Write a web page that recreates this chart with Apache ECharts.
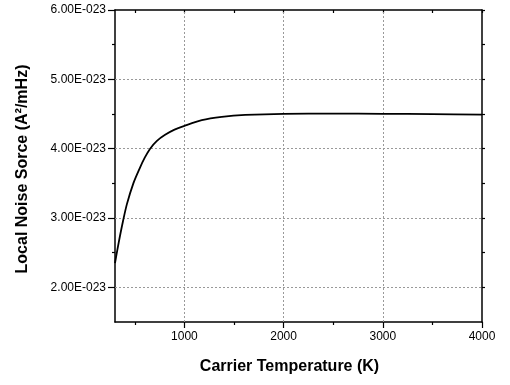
<!DOCTYPE html>
<html>
<head>
<meta charset="utf-8">
<script src="https://cdn.jsdelivr.net/npm/echarts@6/dist/echarts.min.js"></script>
<style>
  html, body { margin: 0; padding: 0; background: #fff; }
  #chart { width: 510px; height: 385px; }
</style>
</head>
<body>
<div id="chart"></div>
<script>
// Carrier temperature (K) and local noise source (in units of 1E-23 A^2/mHz)
const temperature = [300, 325, 350, 380, 420, 485, 550, 600, 654, 720, 805, 900, 1000, 1175, 1377, 1613, 2000, 2500, 3000, 3500, 4000];
const noiseSource = [2.35, 2.55, 2.74, 2.95, 3.2, 3.5, 3.72, 3.87, 4.0, 4.11, 4.2, 4.275, 4.33, 4.41, 4.457, 4.486, 4.503, 4.505, 4.503, 4.498, 4.49];

const xMajorTicks = [1000, 2000, 3000, 4000];
const xMinorTicks = [500, 1500, 2500, 3500];
const yMajorTicks = [2, 3, 4, 5, 6];
const yMinorTicks = [2.5, 3.5, 4.5, 5.5];
const xGridValues = [1000, 2000, 3000];
const yGridValues = [2, 3, 4, 5];

const X_MIN = 300, X_MAX = 4000, Y_MIN = 1.5, Y_MAX = 6;
const FONT = 'Liberation Sans, Arial, sans-serif';

const chart = echarts.init(document.getElementById('chart'), null, { renderer: 'canvas' });

const axisBlack = { show: true, lineStyle: { color: '#000', width: 1.5 } };
const noLine = { show: false };
const tickStyle = { color: '#000', width: 1.2 };

function xAxisBase(extra) {
  return Object.assign({
    type: 'value', min: X_MIN, max: X_MAX,
    splitLine: { show: false },
    axisLabel: { show: false },
    axisLine: noLine
  }, extra);
}
function yAxisBase(extra) {
  return Object.assign({
    type: 'value', min: Y_MIN, max: Y_MAX,
    splitLine: { show: false },
    axisLabel: { show: false },
    axisLine: noLine
  }, extra);
}

const gridMarks = xGridValues.map(v => ({ xAxis: v })).concat(yGridValues.map(v => ({ yAxis: v })));

chart.setOption({
  animation: false,
  backgroundColor: '#fff',
  grid: { left: 115, right: 28, top: 10, bottom: 63, containLabel: false },
  xAxis: [
    xAxisBase({
      position: 'bottom',
      axisLine: axisBlack,
      axisTick: { show: true, customValues: xMajorTicks, length: 6, lineStyle: tickStyle },
      axisLabel: {
        show: true, customValues: xMajorTicks, color: '#000', fontSize: 12, fontFamily: FONT, margin: 9,
        formatter: v => String(v)
      },
      name: 'Carrier Temperature (K)',
      nameLocation: 'middle',
      nameGap: 37,
      nameTextStyle: { fontSize: 16, fontWeight: 'bold', fontFamily: FONT, color: '#000', padding: [0, 18, 0, 0] }
    }),
    xAxisBase({
      position: 'bottom',
      axisTick: { show: true, customValues: xMinorTicks, length: 3, lineStyle: tickStyle }
    }),
    xAxisBase({
      position: 'top',
      axisLine: axisBlack,
      axisTick: { show: true, inside: true, customValues: xMinorTicks.concat(xMajorTicks), length: 3, lineStyle: tickStyle }
    })
  ],
  yAxis: [
    yAxisBase({
      position: 'left',
      axisLine: axisBlack,
      axisTick: { show: true, customValues: yMajorTicks, length: 7, lineStyle: tickStyle },
      axisLabel: {
        show: true, customValues: yMajorTicks, color: '#000', fontSize: 12, fontFamily: FONT, margin: 9,
        formatter: v => v.toFixed(2) + 'E-023'
      },
      name: 'Local Noise Sorce (A\u00B2/mHz)',
      nameLocation: 'middle',
      nameGap: 84,
      nameRotate: 90,
      nameTextStyle: { fontSize: 16, fontWeight: 'bold', fontFamily: FONT, color: '#000', padding: [0, 6, 0, 0] }
    }),
    yAxisBase({
      position: 'left',
      axisTick: { show: true, customValues: yMinorTicks, length: 3, lineStyle: tickStyle }
    }),
    yAxisBase({
      position: 'right',
      axisLine: axisBlack,
      axisTick: { show: true, customValues: yMinorTicks.concat(yMajorTicks), length: 3, lineStyle: tickStyle }
    })
  ],
  series: [{
    type: 'line',
    xAxisIndex: 0,
    yAxisIndex: 0,
    data: temperature.map((t, i) => [t, noiseSource[i]]),
    smooth: 0.3,
    showSymbol: false,
    lineStyle: { color: '#000', width: 1.8 },
    z: 5,
    markLine: {
      silent: true,
      symbol: ['none', 'none'],
      label: { show: false },
      lineStyle: { color: '#999', type: [2, 2], width: 1 },
      emphasis: { disabled: true },
      data: gridMarks
    }
  }]
});
</script>
</body>
</html>
